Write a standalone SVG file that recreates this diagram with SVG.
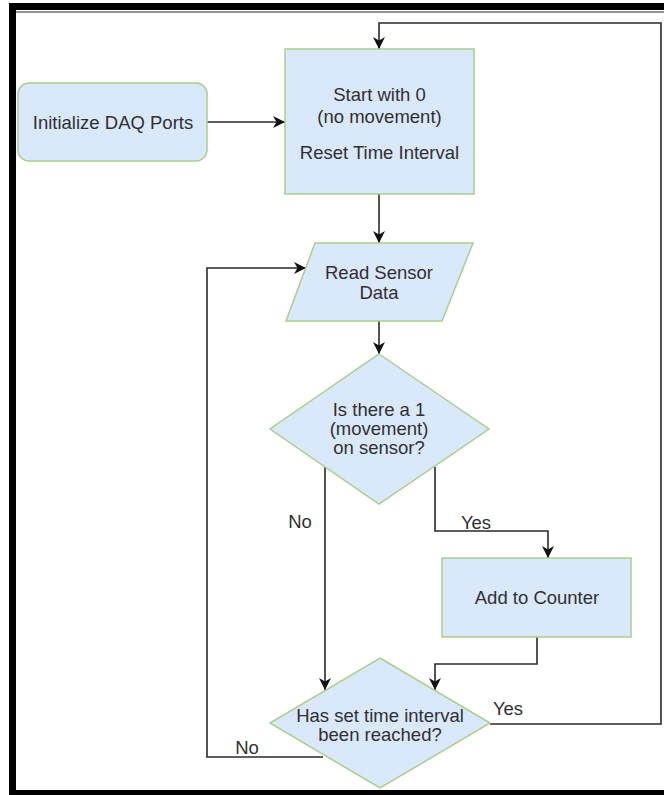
<svg xmlns="http://www.w3.org/2000/svg" width="664" height="795" viewBox="0 0 664 795">
  <style>
    .node { fill: #dae8fc; stroke: #a9cf8a; stroke-width: 1.5; }
    .lbl { font-family: "Liberation Sans", Arial, sans-serif; font-size: 18.5px; fill: #303030; text-anchor: middle; }
    .edge { fill: none; stroke: #2a2a2a; stroke-width: 1.6; }
    .arr { marker-end: url(#arrow); }
  </style>
  <defs>
    <marker id="arrow" markerUnits="userSpaceOnUse" markerWidth="14" markerHeight="12" refX="12" refY="6" orient="auto">
      <path d="M0,0 L12,6 L0,12 L3.5,6 z" fill="#111111"/>
    </marker>
  </defs>
  <rect x="0" y="0" width="664" height="795" fill="#ffffff"/>
  <g id="frame">
    <rect x="9" y="3" width="655" height="7" fill="#000000"/>
    <rect x="9" y="3" width="7" height="792" fill="#000000"/>
    <rect x="9" y="790" width="655" height="5" fill="#000000"/>
    <line x1="16" y1="12" x2="664" y2="12" stroke="#222222" stroke-width="1"/>
  </g>
  <g id="connectors">
    <path class="edge arr" d="M207,122 H285"/>
    <path class="edge arr" d="M490,724 H661 V23 H379 V49"/>
    <path class="edge arr" d="M379,194 V243"/>
    <path class="edge arr" d="M379,321 V354"/>
    <path class="edge arr" d="M325,467 V690"/>
    <path class="edge arr" d="M435,467 V531 H548 V558"/>
    <path class="edge arr" d="M537,637 V664 H435 V690"/>
    <path class="edge arr" d="M323,757 H207 V268 H306"/>
    <text class="lbl" x="300" y="528">No</text>
    <text class="lbl" x="476" y="529">Yes</text>
    <text class="lbl" x="508" y="715">Yes</text>
    <text class="lbl" x="247" y="754">No</text>
  </g>
  <g id="init">
    <rect class="node" x="18" y="83" width="189" height="78" rx="11" ry="11"/>
    <text class="lbl" x="113" y="129">Initialize DAQ Ports</text>
  </g>
  <g id="start">
    <rect class="node" x="285" y="49" width="189" height="145"/>
    <text class="lbl" x="379.5" y="101">Start with 0</text>
    <text class="lbl" x="379.5" y="123">(no movement)</text>
    <text class="lbl" x="379.5" y="159">Reset Time Interval</text>
  </g>
  <g id="read">
    <polygon class="node" points="315,243 473,243 442,321 286,321"/>
    <text class="lbl" x="379" y="279">Read Sensor</text>
    <text class="lbl" x="379" y="299">Data</text>
  </g>
  <g id="decision1">
    <polygon class="node" points="379,354 489,429 379,504 270,429"/>
    <text class="lbl" x="379" y="416">Is there a 1</text>
    <text class="lbl" x="379" y="435">(movement)</text>
    <text class="lbl" x="379" y="454">on sensor?</text>
  </g>
  <g id="counter">
    <rect class="node" x="442" y="558" width="189" height="79"/>
    <text class="lbl" x="537" y="604">Add to Counter</text>
  </g>
  <g id="decision2">
    <polygon class="node" points="380,658 490,723 380,788 270,723"/>
    <text class="lbl" x="380" y="722">Has set time interval</text>
    <text class="lbl" x="380" y="741">been reached?</text>
  </g>
</svg>
